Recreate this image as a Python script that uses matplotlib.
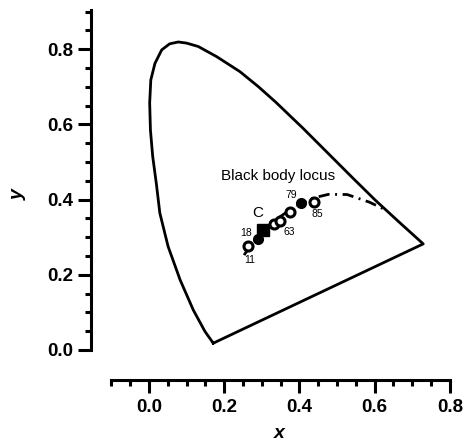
import numpy as np
import matplotlib
matplotlib.use("Agg")
import matplotlib.pyplot as plt

# spectral locus (x, y), from the violet corner round to red
locus_x = [0.171, 0.149, 0.118, 0.083, 0.051, 0.029, 0.020, 0.010, 0.004, 0.002,
           0.005, 0.016, 0.034, 0.055, 0.078, 0.100, 0.131, 0.180, 0.242, 0.291,
           0.337, 0.409, 0.479, 0.545, 0.603, 0.666, 0.729]
locus_y = [0.018, 0.049, 0.106, 0.186, 0.275, 0.364, 0.440, 0.515, 0.585, 0.657,
           0.718, 0.762, 0.798, 0.814, 0.819, 0.816, 0.807, 0.780, 0.740, 0.700,
           0.659, 0.590, 0.520, 0.454, 0.397, 0.339, 0.282]

# black body locus
bb_x = [0.2530, 0.2565, 0.2807, 0.3064, 0.3221, 0.3451, 0.3805, 0.4369, 0.4770,
        0.5267, 0.5857, 0.6300]
bb_y = [0.2520, 0.2577, 0.2883, 0.3166, 0.3318, 0.3516, 0.3768, 0.4041, 0.4137,
        0.4133, 0.3931, 0.3720]

# samples
filled_x = [0.289, 0.403]
filled_y = [0.295, 0.390]
open_x = [0.263, 0.332, 0.348, 0.376, 0.440]
open_y = [0.277, 0.335, 0.344, 0.368, 0.394]
illum_c = (0.303, 0.319)

labels = ["11", "18", "63", "79", "85", "C"]
label_x = [0.267, 0.258, 0.373, 0.377, 0.447, 0.288]
label_y = [0.239, 0.311, 0.314, 0.412, 0.362, 0.364]

plt.rcParams['font.family'] = ['Liberation Sans', 'DejaVu Sans']

fig = plt.figure(figsize=(4.68, 4.43), dpi=100)
ax = fig.add_axes([0.1944, 0.1422, 0.8056, 0.8352])

ax.plot(locus_x + [locus_x[0]], locus_y + [locus_y[0]], color='black', lw=2.0,
        solid_joinstyle='round')
ax.plot(bb_x, bb_y, color='black', lw=2.0, linestyle=(0, (4, 2, 0.7, 2)))

ax.plot(filled_x, filled_y, 'o', color='black', markersize=7)
ax.plot(open_x, open_y, 'o', markerfacecolor='white', markeredgecolor='black',
        markeredgewidth=2.2, markersize=6.5)
ax.plot([illum_c[0]], [illum_c[1]], 's', color='black', markersize=9)

for lab, lx, ly in zip(labels, label_x, label_y):
    fs = 11 if lab == "C" else 7.5
    ax.text(lx, ly, lab, fontsize=fs, ha='center', va='center')

ax.text(0.3435, 0.463, "Black body locus", fontsize=11, ha='center', va='center')

ax.set_xlim(-0.154, 0.848)
ax.set_ylim(-0.08, 0.904)
ax.spines['top'].set_visible(False)
ax.spines['right'].set_visible(False)
ax.spines['left'].set_bounds(0, 0.904)
ax.spines['bottom'].set_bounds(-0.1, 0.8)
for s in ['left', 'bottom']:
    ax.spines[s].set_linewidth(2.2)
    ax.spines[s].set_capstyle('projecting')

ax.set_xticks(np.arange(0, 0.81, 0.2))
ax.set_xticks(np.arange(-0.1, 0.81, 0.05), minor=True)
ax.set_yticks(np.arange(0, 0.81, 0.2))
ax.set_yticks(np.arange(0, 0.91, 0.05), minor=True)
ax.tick_params(which='major', length=9.5, width=2.2, labelsize=13.5, pad=3)
ax.tick_params(axis='x', which='major', pad=4)
ax.tick_params(which='minor', length=4.5, width=2.2)
for t in ax.get_xticklabels() + ax.get_yticklabels():
    t.set_fontweight('bold')

ax.set_xlabel('x', fontsize=14, fontweight='bold', style='italic', labelpad=7)
ax.set_ylabel('y', fontsize=14, fontweight='bold', style='italic', labelpad=15)

fig.savefig('out.png', dpi=100)
